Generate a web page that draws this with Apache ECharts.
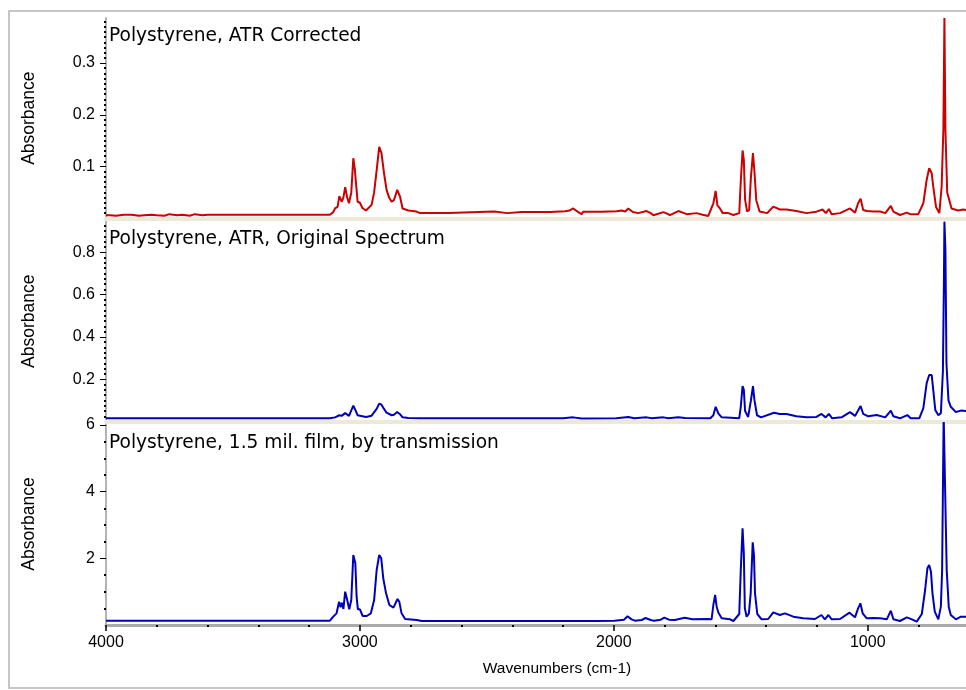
<!DOCTYPE html>
<html>
<head>
<meta charset="utf-8">
<script src="https://cdn.jsdelivr.net/npm/echarts@6/dist/echarts.min.js"></script>
<style>
html,body{margin:0;padding:0;background:#fff;}
#chart{width:966px;height:690px;}
</style>
</head>
<body>
<div id="chart"></div>
<script>
// ---------- DATA ----------
var panelTitles = ['Polystyrene, ATR Corrected', 'Polystyrene, ATR, Original Spectrum', 'Polystyrene, 1.5 mil. film, by transmission'];
var xTickValues = [4000, 3000, 2000, 1000];
var yTicksCorr = [0.1, 0.2, 0.3];
var yTicksOrig = [0.2, 0.4, 0.6, 0.8];
var yTicksTrans = [2, 4, 6];

// ATR corrected (red)
var waveCorr = [4000,3984,3960,3930,3900,3870,3850,3820,3800,3770,3750,3720,3700,3670,3650,3620,3600,3400,3200,3118,3105,3098,3088,3081,3072,3065,3058,3050,3043,3034,3026,3020,3016,3009,3000,2990,2976,2954,2944,2934,2924,2915,2905,2895,2885,2875,2866,2853,2842,2832,2809,2777,2763,2652,2645,2470,2463,2420,2415,2363,2251,2192,2175,2160,2140,2127,2121,2048,1989,1970,1955,1943,1925,1904,1897,1871,1855,1844,1805,1790,1779,1746,1739,1713,1674,1650,1628,1608,1599,1592,1582,1571,1549,1529,1506,1500,1493,1488,1483,1475,1467,1460,1452,1446,1439,1426,1396,1372,1346,1320,1281,1241,1202,1178,1165,1153,1142,1109,1070,1050,1038,1028,1018,1004,978,951,931,909,899,873,846,833,801,781,768,758,748,742,731,718,709,702,698,694,687,670,644,624,613];
var absCorr  = [0.006,0.006,0.005,0.007,0.007,0.005,0.006,0.007,0.006,0.005,0.008,0.006,0.007,0.005,0.008,0.006,0.007,0.007,0.007,0.007,0.012,0.019,0.022,0.043,0.032,0.040,0.060,0.040,0.029,0.050,0.116,0.095,0.071,0.032,0.030,0.020,0.015,0.026,0.050,0.093,0.138,0.126,0.087,0.055,0.040,0.032,0.035,0.055,0.042,0.019,0.015,0.013,0.010,0.010,0.013,0.013,0.010,0.010,0.012,0.012,0.012,0.0135,0.015,0.019,0.012,0.008,0.0125,0.0125,0.0135,0.015,0.013,0.019,0.012,0.010,0.008,0.014,0.010,0.006,0.012,0.009,0.006,0.014,0.013,0.008,0.010,0.007,0.0045,0.029,0.053,0.025,0.019,0.010,0.010,0.0064,0.010,0.071,0.131,0.113,0.036,0.013,0.016,0.080,0.126,0.089,0.035,0.013,0.010,0.0225,0.017,0.017,0.014,0.010,0.0128,0.017,0.010,0.018,0.008,0.010,0.019,0.011,0.029,0.038,0.016,0.014,0.013,0.013,0.010,0.024,0.013,0.0064,0.011,0.008,0.008,0.029,0.074,0.097,0.087,0.061,0.022,0.010,0.061,0.174,0.387,0.170,0.050,0.019,0.015,0.017,0.016];

// ATR original (blue)
var waveOrig = [4000,3896,3894,3892,3400,3118,3098,3081,3072,3058,3043,3026,3016,3009,3000,2976,2954,2934,2924,2915,2905,2895,2875,2866,2853,2842,2832,2809,2763,2200,2160,2127,1990,1943,1920,1871,1850,1805,1785,1746,1720,1620,1608,1599,1588,1575,1506,1500,1493,1488,1483,1471,1460,1452,1446,1436,1420,1369,1346,1320,1281,1241,1202,1182,1166,1153,1140,1103,1070,1050,1038,1028,1018,998,965,931,909,899,873,844,831,797,781,768,758,748,742,734,722,712,704,700,698,694,690,682,673,653,633,613];
var absOrig  = [0.0156,0.0156,0.010,0.0156,0.0156,0.016,0.020,0.030,0.027,0.040,0.027,0.075,0.050,0.030,0.028,0.022,0.028,0.060,0.085,0.080,0.060,0.042,0.030,0.032,0.045,0.035,0.020,0.017,0.016,0.016,0.020,0.015,0.016,0.022,0.016,0.020,0.016,0.020,0.016,0.020,0.017,0.016,0.030,0.070,0.038,0.020,0.016,0.070,0.168,0.150,0.050,0.022,0.100,0.168,0.100,0.030,0.020,0.042,0.036,0.036,0.025,0.020,0.022,0.036,0.020,0.036,0.0156,0.020,0.045,0.027,0.052,0.074,0.037,0.025,0.031,0.020,0.052,0.025,0.0156,0.031,0.0156,0.0156,0.064,0.181,0.220,0.220,0.150,0.055,0.030,0.040,0.236,0.660,0.945,0.810,0.275,0.100,0.070,0.045,0.052,0.050];

// Transmission film (blue)
var waveTrans = [4000,3400,3162,3160,3158,3118,3105,3092,3082,3076,3071,3065,3058,3050,3042,3034,3026,3018,3013,3008,3000,2989,2973,2957,2944,2934,2924,2916,2908,2897,2884,2868,2852,2845,2836,2822,2776,2757,2634,2632,2630,2608,2606,2604,2070,2067,2064,1997,1960,1946,1930,1917,1890,1875,1855,1842,1815,1801,1783,1760,1721,1690,1633,1615,1608,1601,1595,1588,1575,1542,1529,1506,1500,1493,1488,1484,1477,1468,1461,1453,1448,1444,1435,1418,1392,1372,1346,1326,1293,1254,1208,1182,1169,1155,1142,1109,1072,1050,1038,1029,1020,1004,978,951,925,909,899,873,846,826,807,787,774,765,758,751,745,736,722,712,707,701,698,695,689,681,673,653,633,613];
var absTrans = [0.13,0.13,0.13,0.18,0.13,0.13,0.25,0.35,0.70,0.53,0.67,0.48,1.00,0.75,0.47,0.75,2.10,1.85,0.85,0.47,0.47,0.27,0.27,0.35,0.75,1.65,2.10,2.00,1.40,0.95,0.60,0.52,0.78,0.70,0.35,0.18,0.15,0.12,0.12,0.17,0.12,0.12,0.17,0.12,0.12,0.09,0.12,0.13,0.16,0.26,0.17,0.13,0.15,0.21,0.15,0.13,0.16,0.22,0.16,0.15,0.22,0.17,0.18,0.17,0.60,0.90,0.55,0.37,0.20,0.17,0.12,0.33,1.65,2.90,2.15,0.50,0.25,0.35,0.95,2.48,2.10,0.95,0.33,0.17,0.18,0.38,0.30,0.35,0.25,0.20,0.18,0.30,0.17,0.30,0.17,0.18,0.37,0.23,0.50,0.65,0.35,0.20,0.21,0.20,0.17,0.43,0.17,0.12,0.23,0.17,0.10,0.33,1.05,1.70,1.80,1.60,0.95,0.40,0.17,0.55,1.65,6.30,6.30,6.30,1.65,0.55,0.30,0.17,0.25,0.25];

// ---------- BUILD ----------
function zip(w, a) { return w.map(function (v, i) { return [v, a[i]]; }); }
function plain(v) { return String(v); }

var tickFont = 'Liberation Sans, Arial, sans-serif';
var grids = [
  { left: 106, right: 0, top: 18, height: 200.3 },
  { left: 106, right: 0, top: 221, height: 200.6 },
  { left: 106, right: 0, top: 423, height: 202 }
];

function makeX(idx, showAll) {
  var ax = {
    type: 'value', gridIndex: idx, inverse: true, min: 613, max: 4000, splitNumber: 4,
    splitLine: { show: false },
    axisLine: { show: true, onZero: false, lineStyle: { color: '#ECE9D8', width: 4 } },
    axisTick: { show: false }, axisLabel: { show: false }
  };
  if (showAll) {
    ax.axisLine = { show: true, onZero: false, lineStyle: { color: '#ababab', width: 3 } };
    ax.axisTick = { show: true, length: 6, customValues: xTickValues, lineStyle: { color: '#000', width: 1.5 } };
    ax.minorTick = { show: true, splitNumber: 5, length: 2, lineStyle: { color: '#000', width: 2 } };
    ax.axisLabel = { show: true, customValues: xTickValues, formatter: plain, margin: 10, color: '#000', fontSize: 16, fontFamily: tickFont };
    ax.name = 'Wavenumbers (cm-1)';
    ax.nameLocation = 'middle';
    ax.nameGap = 36;
    ax.nameTextStyle = { color: '#000', fontSize: 15.5, fontFamily: tickFont, padding: [0, 0, 0, 42] };
  }
  return ax;
}

function makeY(idx, max, interval, ticks, minorSplit) {
  return {
    type: 'value', gridIndex: idx, min: 0, max: max, interval: interval,
    splitLine: { show: false },
    axisLine: { show: true, lineStyle: { color: '#b4b4b4', width: 2 } },
    axisTick: { show: true, length: 6, customValues: ticks, lineStyle: { color: '#000', width: 1 } },
    minorTick: { show: true, splitNumber: minorSplit, length: 2, lineStyle: { color: '#000', width: 2 } },
    axisLabel: { show: true, customValues: ticks, formatter: plain, margin: 11, color: '#000', fontSize: 16, fontFamily: tickFont },
    name: 'Absorbance', nameLocation: 'middle', nameGap: 68,
    nameTextStyle: { color: '#000', fontSize: 17.5, fontFamily: tickFont }
  };
}

var titleTops = [26.5, 229.7, 433.2];
var option = {
  animation: false,
  backgroundColor: '#ffffff',
  title: panelTitles.map(function (t, i) {
    return { text: t, left: 109, top: titleTops[i], padding: 0,
      textStyle: { fontFamily: 'DejaVu Sans', fontSize: 18.6, fontWeight: 'normal', color: '#000' } };
  }),
  graphic: [{
    type: 'rect', z: -10, silent: true,
    shape: { x: 9, y: 11, width: 980, height: 677 },
    style: { fill: 'none', stroke: '#c6c6c6', lineWidth: 2 }
  }],
  grid: grids,
  xAxis: [makeX(0, false), makeX(1, false), makeX(2, true)],
  yAxis: [
    makeY(0, 0.387, 0.1, yTicksCorr, 10),
    makeY(1, 0.948, 0.2, yTicksOrig, 8),
    makeY(2, 6.06, 2, yTicksTrans, 4)
  ],
  series: [
    { type: 'line', xAxisIndex: 0, yAxisIndex: 0, data: zip(waveCorr, absCorr), showSymbol: false, symbol: 'none', clip: true,
      lineStyle: { color: '#cc0000', width: 2 }, itemStyle: { color: '#cc0000' } },
    { type: 'line', xAxisIndex: 1, yAxisIndex: 1, data: zip(waveOrig, absOrig), showSymbol: false, symbol: 'none', clip: true,
      lineStyle: { color: '#0000bb', width: 2 }, itemStyle: { color: '#0000bb' } },
    { type: 'line', xAxisIndex: 2, yAxisIndex: 2, data: zip(waveTrans, absTrans), showSymbol: false, symbol: 'none', clip: true,
      lineStyle: { color: '#0000bb', width: 2 }, itemStyle: { color: '#0000bb' } }
  ]
};
var chart = echarts.init(document.getElementById('chart'), null, { renderer: 'canvas' });
chart.setOption(option);
</script>
</body>
</html>
